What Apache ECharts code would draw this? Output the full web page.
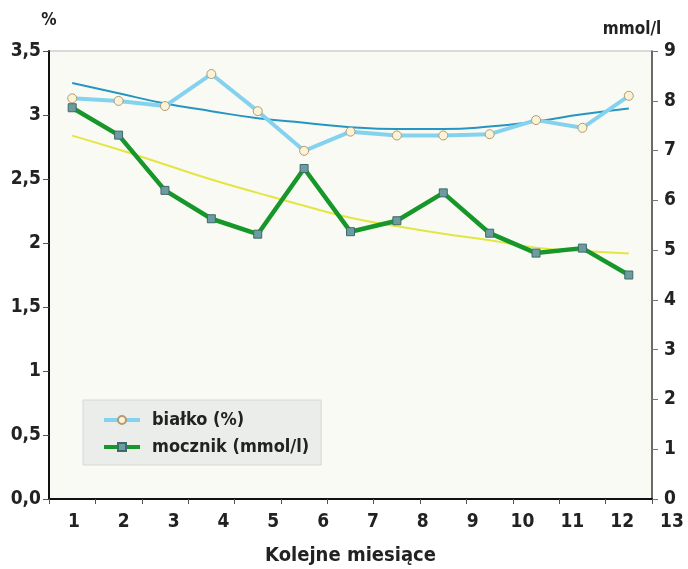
<!DOCTYPE html>
<html>
<head>
<meta charset="utf-8">
<script src="https://cdn.jsdelivr.net/npm/echarts@6.0.0/dist/echarts.min.js"></script>
<style>
  html, body { margin: 0; padding: 0; background: #fff; }
  #chart { width: 688px; height: 569px; }
</style>
</head>
<body>
<div id="chart"></div>
<script>
// kolejne miesiące (kategorie) i etykiety osi X
const months = ['1', '2', '3', '4', '5', '6', '7', '8', '9', '10', '11', '12', '13']
const monthLabels = [1, 2, 3, 4, 5, 6, 7, 8, 9, 10, 11, 12, 13]

// białko (%) - lewa oś
const bialko = [3.13, 3.11, 3.07, 3.32, 3.03, 2.72, 2.87, 2.84, 2.84, 2.85, 2.96, 2.90, 3.15]
const bialkoTrend = [3.25, 3.17, 3.09, 3.03, 2.975, 2.94, 2.905, 2.89, 2.89, 2.91, 2.95, 3.005, 3.05]

// mocznik (mmol/l) - prawa oś
const mocznik = [7.86, 7.31, 6.20, 5.63, 5.32, 6.64, 5.37, 5.59, 6.15, 5.34, 4.94, 5.04, 4.50]
const mocznikTrend = [7.30, 7.02, 6.72, 6.42, 6.15, 5.89, 5.65, 5.48, 5.33, 5.20, 5.05, 4.98, 4.93]

// etykiety osi Y
const leftLabels = ['0,0', '0,5', '1', '1,5', '2', '2,5', '3', '3,5']
const rightLabels = ['0', '1', '2', '3', '4', '5', '6', '7', '8', '9']

const FONT = "'Liberation Sans Narrow', 'DejaVu Sans Condensed', 'Roboto', sans-serif"
const TXT = '#222'

const chart = echarts.init(document.getElementById('chart'))
chart.setOption({
  animation: false,
  textStyle: { fontFamily: FONT },
  grid: [
    {
      left: 49, right: 36, top: 51, bottom: 70,
      outerBoundsMode: 'none',
      show: true,
      backgroundColor: '#fafaf5',
      borderColor: '#b8b8b8',
      borderWidth: 1
    },
    // tylko dla etykiet miesięcy (przesunięte względem punktów jak w oryginale)
    { left: 49, right: 16, top: 51, bottom: 70, outerBoundsMode: 'none', show: false }
  ],
  legend: {
    data: ['białko (%)', 'mocznik (mmol/l)'],
    orient: 'vertical',
    left: 83,
    top: 400,
    padding: [11, 12, 9, 19],
    itemGap: 9,
    itemWidth: 36,
    itemHeight: 10,
    backgroundColor: '#ebedeb',
    borderColor: '#d6d8d6',
    borderWidth: 1,
    lineStyle: { width: 4 },
    textStyle: {
      fontFamily: FONT,
      fontSize: 18,
      fontWeight: 'bold',
      color: TXT,
      padding: [0, 0, 0, 7]
    }
  },
  xAxis: [
    {
      type: 'category',
      gridIndex: 0,
      data: months,
      boundaryGap: true,
      name: 'Kolejne miesiące',
      nameLocation: 'middle',
      nameGap: 47,
      nameTextStyle: { fontFamily: FONT, fontSize: 20, fontWeight: 'bold', color: TXT },
      axisLine: { lineStyle: { color: '#111', width: 2 } },
      axisTick: { show: true, interval: 0, length: 5, lineStyle: { color: '#555' } },
      axisLabel: { show: false },
      splitLine: { show: false }
    },
    {
      type: 'value',
      gridIndex: 1,
      min: 0.5,
      max: 13,
      axisLine: { show: false },
      axisTick: { show: false },
      splitLine: { show: false },
      axisLabel: {
        customValues: monthLabels,
        margin: 14,
        fontFamily: FONT,
        fontSize: 19,
        fontWeight: 'bold',
        color: TXT,
        formatter: v => String(v)
      }
    }
  ],
  yAxis: [
    {
      type: 'value',
      gridIndex: 0,
      min: 0,
      max: 3.5,
      interval: 0.5,
      name: '%',
      nameLocation: 'end',
      nameGap: 22,
      nameTextStyle: { fontFamily: FONT, fontSize: 17, fontWeight: 'bold', color: TXT, align: 'center' },
      axisLine: { show: true, lineStyle: { color: '#111', width: 2 } },
      axisTick: { show: true, length: 6, lineStyle: { color: '#555' } },
      splitLine: { show: false },
      axisLabel: {
        margin: 8,
        fontFamily: FONT,
        fontSize: 19,
        fontWeight: 'bold',
        color: TXT,
        formatter: (v, i) => leftLabels[i]
      }
    },
    {
      type: 'value',
      gridIndex: 0,
      position: 'right',
      min: 0,
      max: 9,
      interval: 1,
      name: 'mmol/l',
      nameLocation: 'end',
      nameGap: 13,
      nameTextStyle: {
        fontFamily: FONT, fontSize: 17, fontWeight: 'bold', color: TXT,
        align: 'center', padding: [0, 40, 0, 0]
      },
      axisLine: { show: true, lineStyle: { color: '#444', width: 1.5 } },
      axisTick: { show: true, length: 6, lineStyle: { color: '#777' } },
      splitLine: { show: false },
      axisLabel: {
        margin: 12,
        fontFamily: FONT,
        fontSize: 19,
        fontWeight: 'bold',
        color: TXT,
        formatter: (v, i) => rightLabels[i]
      }
    },
    { type: 'value', gridIndex: 1, show: false }
  ],
  series: [
    {
      name: 'trend białko',
      type: 'line',
      data: bialkoTrend,
      smooth: true,
      symbol: 'none',
      lineStyle: { color: '#2596c2', width: 2 },
      z: 2
    },
    {
      name: 'trend mocznik',
      type: 'line',
      yAxisIndex: 1,
      data: mocznikTrend,
      smooth: true,
      symbol: 'none',
      lineStyle: { color: '#e2e642', width: 2 },
      z: 2
    },
    {
      name: 'białko (%)',
      type: 'line',
      data: bialko,
      symbol: 'circle',
      symbolSize: 9,
      lineStyle: { color: '#85d2ef', width: 4 },
      itemStyle: { color: '#fbf3d8', borderColor: '#b39a70', borderWidth: 1 },
      z: 3
    },
    {
      name: 'mocznik (mmol/l)',
      type: 'line',
      yAxisIndex: 1,
      data: mocznik,
      symbol: 'rect',
      symbolSize: 8,
      lineStyle: { color: '#17962a', width: 4.5 },
      itemStyle: { color: '#6d9c9e', borderColor: '#3d6a6c', borderWidth: 1 },
      z: 3
    }
  ]
})
</script>
</body>
</html>
